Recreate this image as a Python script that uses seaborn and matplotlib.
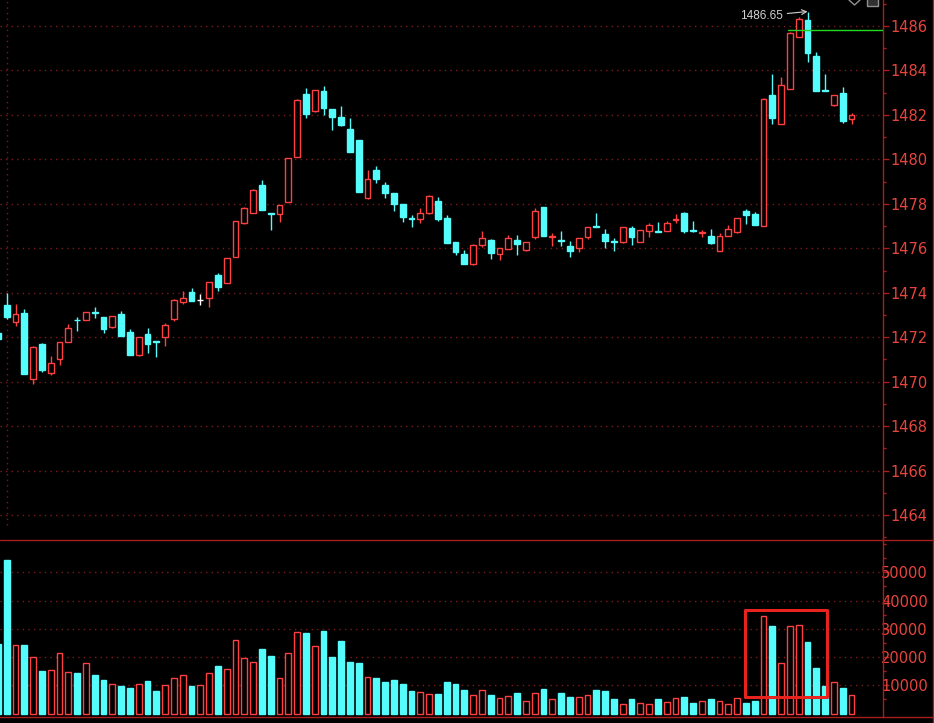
import numpy as np
import pandas as pd
import matplotlib
matplotlib.use("Agg")
import matplotlib.pyplot as plt
import seaborn as sns
from matplotlib.patches import Rectangle
from matplotlib.lines import Line2D

# candle index (-1 is the half-hidden bar at the left edge)
idx = list(range(-1, 97))

opens = [1472.19, 1473.45, 1472.70, 1473.10, 1470.11, 1471.69, 1470.40, 1471.03, 1471.80, 1472.78,
         1472.79, 1473.12, 1472.90, 1472.47, 1473.04, 1472.23, 1471.19, 1472.14, 1471.82, 1472.00,
         1472.82, 1473.58, 1474.02, 1473.67, 1473.75, 1474.80, 1474.45, 1475.62, 1477.15, 1477.60,
         1478.85, 1477.58, 1477.56, 1478.10, 1480.12, 1482.94, 1482.19, 1483.08, 1482.27, 1481.91,
         1481.37, 1480.87, 1478.25, 1479.52, 1478.83, 1478.47, 1477.99, 1477.37, 1477.30, 1477.57,
         1478.13, 1477.36, 1476.28, 1475.74, 1475.29, 1476.15, 1476.37, 1475.76, 1475.97, 1476.37,
         1475.92, 1476.52, 1477.84, 1476.50, 1476.39, 1476.10, 1476.00, 1476.49, 1476.99, 1476.64,
         1476.32, 1476.27, 1476.91, 1476.30, 1476.79, 1476.77, 1476.79, 1477.28, 1477.60, 1476.81,
         1476.70, 1476.55, 1475.89, 1476.57, 1476.72, 1477.68, 1477.54, 1477.02, 1482.90, 1481.61,
         1483.18, 1485.52, 1486.27, 1484.65, 1483.11, 1482.46, 1482.97, 1481.80]
highs = [1472.19, 1474.00, 1473.49, 1473.26, 1471.60, 1471.72, 1471.16, 1471.80, 1472.59, 1472.90,
         1473.15, 1473.35, 1472.92, 1472.97, 1473.18, 1472.37, 1472.02, 1472.40, 1471.82, 1472.65,
         1473.70, 1474.08, 1474.20, 1473.94, 1474.50, 1474.90, 1475.58, 1477.25, 1477.85, 1478.65,
         1479.07, 1477.58, 1477.97, 1480.08, 1482.72, 1483.21, 1483.14, 1483.30, 1482.27, 1482.40,
         1481.86, 1480.87, 1479.52, 1479.70, 1478.98, 1478.47, 1477.99, 1477.50, 1477.80, 1478.38,
         1478.29, 1477.48, 1476.28, 1475.92, 1476.18, 1476.79, 1476.42, 1476.02, 1476.60, 1476.60,
         1476.30, 1477.80, 1477.86, 1476.67, 1476.78, 1476.33, 1476.47, 1476.96, 1477.57, 1476.85,
         1476.45, 1476.96, 1477.02, 1476.84, 1477.15, 1477.20, 1477.24, 1477.54, 1477.62, 1477.24,
         1476.82, 1476.85, 1476.68, 1477.05, 1477.38, 1477.75, 1477.62, 1482.75, 1483.84, 1483.72,
         1485.72, 1486.42, 1486.65, 1484.82, 1483.84, 1482.88, 1483.24, 1482.10]
lows = [1471.92, 1472.81, 1472.50, 1470.35, 1469.88, 1470.45, 1470.30, 1470.76, 1471.80, 1472.29,
        1472.76, 1472.85, 1472.18, 1472.40, 1472.05, 1471.21, 1471.15, 1471.28, 1471.12, 1471.62,
        1472.74, 1473.49, 1473.64, 1473.45, 1473.37, 1474.09, 1474.42, 1475.60, 1477.10, 1477.58,
        1477.72, 1476.82, 1477.20, 1478.08, 1480.10, 1481.88, 1482.12, 1482.00, 1481.32, 1481.50,
        1480.35, 1478.55, 1478.22, 1478.92, 1478.25, 1477.69, 1477.20, 1476.97, 1477.15, 1477.55,
        1477.24, 1476.22, 1475.70, 1475.29, 1475.27, 1476.08, 1475.52, 1475.47, 1475.95, 1475.70,
        1475.90, 1476.42, 1476.57, 1476.12, 1476.12, 1475.60, 1475.85, 1476.40, 1476.95, 1476.00,
        1475.89, 1476.25, 1476.15, 1476.28, 1476.52, 1476.72, 1476.77, 1477.12, 1476.70, 1476.72,
        1476.49, 1476.18, 1475.87, 1476.55, 1476.70, 1477.09, 1477.05, 1477.00, 1481.61, 1481.59,
        1483.16, 1485.50, 1484.39, 1483.09, 1483.07, 1482.40, 1481.65, 1481.59]
closes = [1471.92, 1472.92, 1473.04, 1470.35, 1471.57, 1470.53, 1470.84, 1471.78, 1472.40, 1472.76,
          1473.12, 1473.08, 1472.38, 1472.95, 1472.05, 1471.21, 1472.00, 1471.68, 1471.78, 1472.55,
          1473.67, 1473.75, 1473.64, 1473.67, 1474.48, 1474.27, 1475.55, 1477.23, 1477.81, 1478.62,
          1477.72, 1477.54, 1477.95, 1480.06, 1482.67, 1482.04, 1483.12, 1482.31, 1481.92, 1481.55,
          1480.35, 1478.55, 1479.12, 1479.13, 1478.50, 1477.99, 1477.42, 1477.33, 1477.57, 1478.35,
          1477.33, 1476.22, 1475.85, 1475.29, 1476.15, 1476.45, 1475.80, 1476.00, 1476.45, 1476.19,
          1476.27, 1477.68, 1476.57, 1476.55, 1476.35, 1475.88, 1476.45, 1476.94, 1476.95, 1476.34,
          1476.28, 1476.94, 1476.52, 1476.82, 1477.05, 1476.73, 1477.12, 1477.32, 1476.79, 1476.77,
          1476.74, 1476.25, 1476.55, 1476.87, 1477.35, 1477.50, 1477.05, 1482.72, 1481.88, 1483.35,
          1485.70, 1486.31, 1484.80, 1483.09, 1483.07, 1482.88, 1481.74, 1482.00]
volumes = [24600, 54400, 24200, 24200, 19900, 15100, 15300, 21300, 14600, 14400,
           17800, 13700, 11900, 10400, 9800, 9100, 10400, 11500, 8000, 10000,
           12500, 13600, 9800, 10000, 14300, 16800, 15700, 25900, 19600, 18200,
           22900, 20400, 12500, 21300, 28800, 28500, 23800, 29200, 20000, 25700,
           18300, 17900, 13000, 12600, 11200, 11900, 10400, 8000, 7500, 6800,
           6900, 11200, 10500, 8400, 6600, 8200, 6600, 5400, 6200, 7300,
           4400, 7300, 8700, 5200, 7300, 5900, 5900, 6600, 8400, 8000,
           5200, 3400, 5200, 3800, 3400, 5200, 4100, 5500, 5900, 3800,
           4500, 5200, 4500, 3400, 5500, 3800, 4500, 34500, 31000, 17900,
           31000, 31400, 25300, 16100, 9800, 11200, 9100, 6600]

price_ticks = list(range(1464, 1487, 2))
volume_ticks = [10000, 20000, 30000, 40000, 50000]
high_label = "1486.65"
high_mark = 1486.65
green_level = 1485.81

RED = "#ff4040"
CYAN = "#55fcfc"
AXIS_RED = "#a81e1e"
LABEL_RED = "#e8443e"
GRID_RED = "#7c1a1a"

sns.set_theme(style="dark", rc={"axes.facecolor": "black", "figure.facecolor": "black",
                                "savefig.facecolor": "black", "axes.edgecolor": AXIS_RED})
plt.rcParams["font.family"] = ["Liberation Sans Narrow", "DejaVu Sans"]

W, H = 934, 723
fig = plt.figure(figsize=(W / 100, H / 100), dpi=100)
ax = fig.add_axes([0, (H - 540) / H, 883 / W, 540 / H])
axv = fig.add_axes([0, (H - 717) / H, 883 / W, (717 - 541) / H])

x = np.array(idx)
o, hi, lo, c = map(np.array, (opens, highs, lows, closes))
up = c > o
down = c < o
edge = np.where(up, RED, np.where(down, CYAN, "white"))
face = np.where(up, "black", np.where(down, CYAN, "white"))
body_lo = np.minimum(o, c)
body_hi = np.maximum(o, c)

ax.vlines(x, body_hi, hi, colors=edge, lw=1, zorder=2)
ax.vlines(x, lo, body_lo, colors=edge, lw=1, zorder=2)
ax.bar(x, body_hi - body_lo, width=0.66, bottom=body_lo, color=face,
       edgecolor=edge, linewidth=1, zorder=3)

# volume
kind = np.where(down, "down", "up")
vol_df = pd.DataFrame({"idx": idx, "volume": volumes, "kind": kind})
sns.barplot(data=vol_df[vol_df["kind"] == "up"], x="idx", y="volume", native_scale=True,
            width=0.66, color="black", edgecolor=RED, linewidth=1, saturation=1,
            errorbar=None, ax=axv)
sns.barplot(data=vol_df[vol_df["kind"] == "down"], x="idx", y="volume", native_scale=True,
            width=0.66, color=CYAN, edgecolor=CYAN, linewidth=1, saturation=1,
            errorbar=None, ax=axv)
axv.set_xlabel("")
axv.set_ylabel("")

xlim = (-6.7 / 8.8, (883 - 6.7) / 8.8)
ax.set_xlim(*xlim)
axv.set_xlim(*xlim)
ax.set_ylim(1486 - 514 / 22.23, 1486 + 26 / 22.23)
axv.set_ylim(-1200, 61100)

for a, ticks, labels, minor in (
        (ax, price_ticks, [str(t) for t in price_ticks], np.arange(1463, 1488, 1)),
        (axv, volume_ticks, [str(t) for t in volume_ticks], np.arange(5000, 61000, 5000))):
    a.set_facecolor("black")
    a.yaxis.tick_right()
    a.set_yticks(ticks)
    a.set_yticklabels(labels, ha="right")
    a.set_yticks(minor, minor=True)
    a.tick_params(axis="y", which="major", direction="out", length=4.3, width=1,
                  color=AXIS_RED, labelcolor=LABEL_RED, labelsize=10.5, pad=28)
    a.tick_params(axis="y", which="minor", direction="out", length=2.2, width=1,
                  color=AXIS_RED)
    a.set_xticks([])
    a.grid(False)
    a.grid(axis="y", which="major", color=GRID_RED, linestyle=(0, (1, 3)), lw=1)
    for side in ("left", "top", "bottom"):
        a.spines[side].set_visible(False)
    a.spines["right"].set_color(AXIS_RED)
    a.spines["right"].set_linewidth(1)

# cursor line on the first candle
ax.plot([0, 0], [1463.55, 1487.2], color=GRID_RED, linestyle=(0, (1, 3)), lw=1, zorder=1)

# green level line
ax.plot([88.8, xlim[1]], [green_level, green_level], color="#22d822", lw=1, zorder=4)

# high annotation
ax.annotate(high_label, xy=(91, high_mark), xytext=(83.3, 1486.45),
            color="#d0d0d0", fontsize=8.5, family=["Liberation Sans", "DejaVu Sans"],
            ha="left", va="center",
            arrowprops=dict(arrowstyle="->", color="#d0d0d0", lw=0.8,
                            shrinkA=1, shrinkB=0))

# highlight box on the volume burst
axv.add_patch(Rectangle((83.9, 5800), 93.18 - 83.9, 36700 - 5800, fill=False,
                        edgecolor="#e8231e", lw=2.2, joinstyle="round", zorder=5))

# panel frame lines
fig.add_artist(Line2D([0, 1], [(H - 540) / H] * 2, color=AXIS_RED, lw=1))
fig.add_artist(Line2D([0, 1], [(H - 717) / H] * 2, color=AXIS_RED, lw=1))
fig.add_artist(Line2D([933 / W] * 2, [0, 1], color=AXIS_RED, lw=1))

# small toolbar icons at the top right
fig.add_artist(Line2D(np.array([849, 854.5, 860]) / W, (H - np.array([0, 5, 0])) / H,
                      color="#909090", lw=1))
fig.add_artist(Rectangle((867 / W, (H - 6) / H), 11 / W, 8 / H, facecolor="#303030",
                         edgecolor="#909090", lw=1))

fig.savefig("out.png", dpi=100, facecolor="black")
